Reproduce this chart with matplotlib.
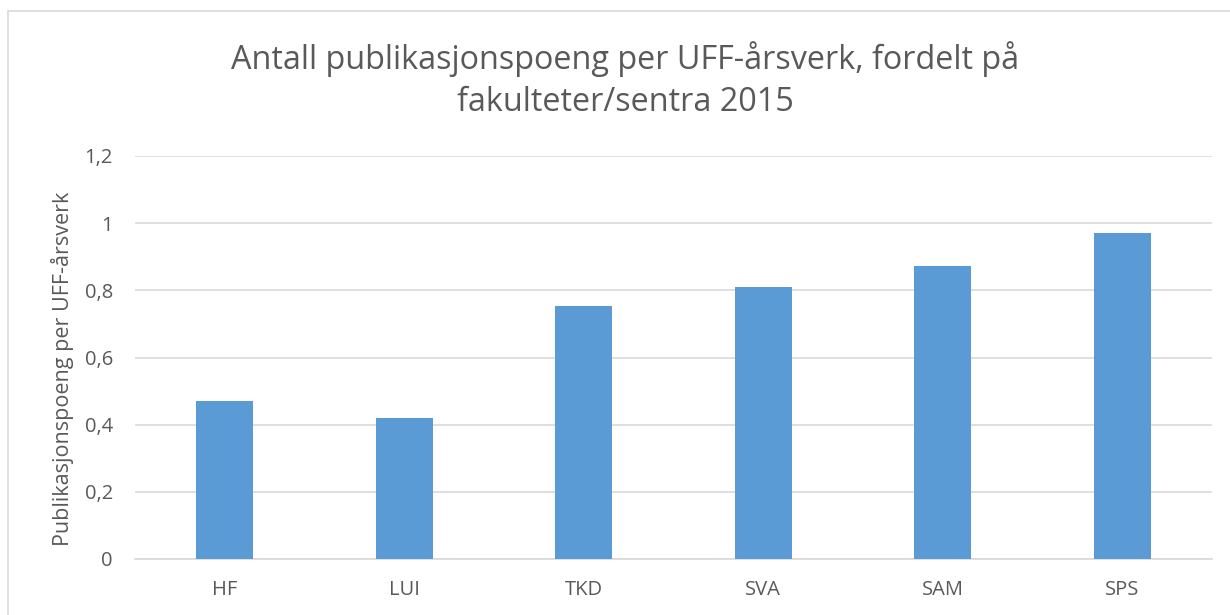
import matplotlib
matplotlib.use("Agg")
import matplotlib.pyplot as plt
from matplotlib.patches import Rectangle

categories = ["HF", "LUI", "TKD", "SVA", "SAM", "SPS"]
values = [0.471, 0.421, 0.752, 0.811, 0.871, 0.971]
yticks = [0, 0.2, 0.4, 0.6, 0.8, 1.0, 1.2]
ytick_labels = ["0", "0,2", "0,4", "0,6", "0,8", "1", "1,2"]

W, H = 1230, 615
fig = plt.figure(figsize=(W / 100, H / 100), dpi=100)
plt.rcParams['font.family'] = ['Open Sans', 'DejaVu Sans']

# chart border (extends past image right/bottom)
fig.patches.append(Rectangle((8 / W, -0.1), 1.2, 1 - 11 / H + 0.1, transform=fig.transFigure,
                             fill=False, edgecolor="#d9d9d9", linewidth=1.2))

ax = fig.add_axes([135 / W, 1 - 559 / H, (1212 - 135) / W, (559 - 156) / H])
x = range(len(categories))
ax.bar(x, values, width=0.32, color="#5B9BD5", zorder=3)
ax.set_xlim(-0.5, len(categories) - 0.5)
ax.set_ylim(0, 1.2)
ax.set_yticks(yticks)
ax.set_yticklabels(ytick_labels)
ax.set_xticks(list(x))
ax.set_xticklabels(categories)
ax.grid(axis="y", color="#d9d9d9", linewidth=1.2, zorder=0)
for s in ["top", "right", "left"]:
    ax.spines[s].set_visible(False)
ax.spines["bottom"].set_color("#d9d9d9")
ax.spines["bottom"].set_linewidth(1.2)
ax.tick_params(axis="both", length=0, labelsize=14.5, labelcolor="#595959")
ax.tick_params(axis="x", pad=15)
ax.tick_params(axis="y", pad=16)
ax.set_ylabel("Publikasjonspoeng per UFF-årsverk", fontsize=15.5, color="#595959", labelpad=12)
ax.yaxis.set_label_coords(-(135 - 74) / (1212 - 135), (559 - 369) / (559 - 156))

fig.text(625 / W, 1 - 80 / H, "Antall publikasjonspoeng per UFF-årsverk, fordelt på\nfakulteter/sentra 2015",
         ha="center", va="center", fontsize=23.3, color="#595959", linespacing=1.38)

fig.savefig("out.png", dpi=100, facecolor="white")
